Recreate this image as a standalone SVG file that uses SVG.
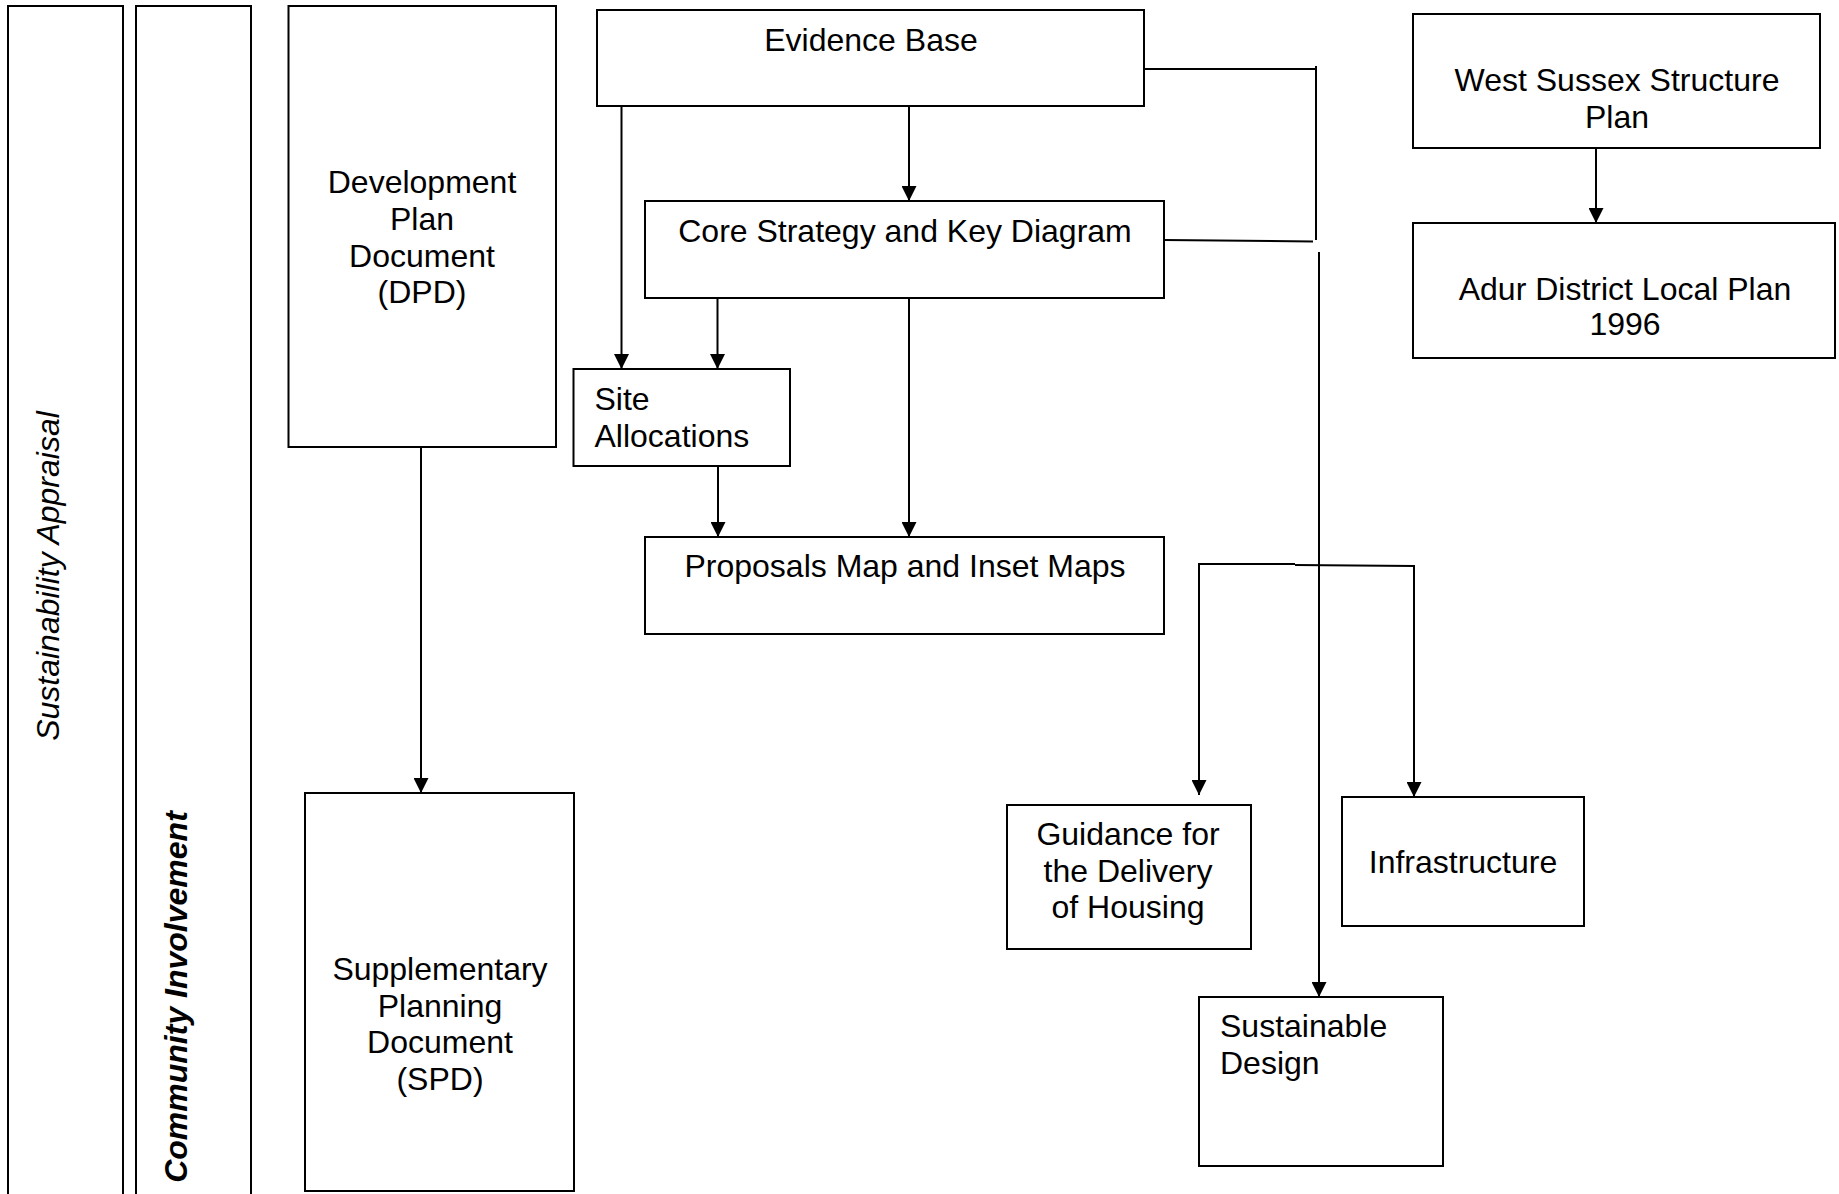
<svg xmlns="http://www.w3.org/2000/svg" width="1839" height="1194" viewBox="0 0 1839 1194">
<style>
.box{fill:#fff;stroke:#000;stroke-width:2}
.t{font-family:"Liberation Sans",Arial,sans-serif;font-size:32px;fill:#000}
.c{text-anchor:middle}
.ln{fill:none;stroke:#000;stroke-width:2}
</style>
<defs>
<marker id="ah" markerUnits="userSpaceOnUse" markerWidth="15" markerHeight="15" refX="15" refY="7.5" orient="auto">
<path d="M0,0 L15,7.5 L0,15 z" fill="#000"/>
</marker>
</defs>
<rect width="1839" height="1194" fill="#fff"/>
<g id="sustainability-appraisal">
<rect class="box" x="8" y="6" width="115" height="1200"/>
<text class="t" font-style="italic" text-anchor="middle" transform="translate(59,576) rotate(-90)">Sustainability Appraisal</text>
</g>
<g id="community-involvement">
<rect class="box" x="136" y="6" width="115" height="1200"/>
<text class="t" font-style="italic" font-weight="bold" text-anchor="middle" transform="translate(187,997) rotate(-90)">Community Involvement</text>
</g>
<g id="connectors">
<line class="ln" x1="421" y1="447" x2="421" y2="793" marker-end="url(#ah)"/>
<line class="ln" x1="909" y1="106" x2="909" y2="201" marker-end="url(#ah)"/>
<line class="ln" x1="621.5" y1="106" x2="621.5" y2="369" marker-end="url(#ah)"/>
<line class="ln" x1="717.5" y1="298" x2="717.5" y2="369" marker-end="url(#ah)"/>
<line class="ln" x1="909" y1="298" x2="909" y2="537" marker-end="url(#ah)"/>
<line class="ln" x1="718" y1="466" x2="718" y2="537" marker-end="url(#ah)"/>
<polyline class="ln" points="1145,69 1316,69"/>
<line class="ln" x1="1316" y1="66" x2="1316" y2="240"/>
<line class="ln" x1="1164" y1="240" x2="1313" y2="241.5"/>
<line class="ln" x1="1319" y1="252" x2="1319" y2="997" marker-end="url(#ah)"/>
<line class="ln" x1="1199" y1="564" x2="1295" y2="564"/>
<line class="ln" x1="1295" y1="565" x2="1414" y2="566"/>
<line class="ln" x1="1199" y1="563" x2="1199" y2="795" marker-end="url(#ah)"/>
<line class="ln" x1="1414" y1="565" x2="1414" y2="797" marker-end="url(#ah)"/>
<line class="ln" x1="1596" y1="148" x2="1596" y2="223" marker-end="url(#ah)"/>
</g>
<g id="dpd">
<rect class="box" x="288.5" y="6" width="267.5" height="441"/>
<text class="t c" x="422" y="193">Development</text>
<text class="t c" x="422" y="230">Plan</text>
<text class="t c" x="422" y="267">Document</text>
<text class="t c" x="422" y="303">(DPD)</text>
</g>
<g id="spd">
<rect class="box" x="305" y="793" width="269" height="398"/>
<text class="t c" x="440" y="980">Supplementary</text>
<text class="t c" x="440" y="1017">Planning</text>
<text class="t c" x="440" y="1053">Document</text>
<text class="t c" x="440" y="1090">(SPD)</text>
</g>
<g id="evidence-base">
<rect class="box" x="597" y="10" width="547" height="96"/>
<text class="t c" x="871" y="51">Evidence Base</text>
</g>
<g id="core-strategy">
<rect class="box" x="645" y="201" width="519" height="97"/>
<text class="t c" x="905" y="242">Core Strategy and Key Diagram</text>
</g>
<g id="site-allocations">
<rect class="box" x="573.5" y="369" width="216.5" height="97"/>
<text class="t" x="594.5" y="410">Site</text>
<text class="t" x="594.5" y="447">Allocations</text>
</g>
<g id="proposals-map">
<rect class="box" x="645" y="537" width="519" height="97"/>
<text class="t c" x="905" y="577">Proposals Map and Inset Maps</text>
</g>
<g id="west-sussex">
<rect class="box" x="1413" y="14" width="407" height="134"/>
<text class="t c" x="1617" y="91">West Sussex Structure</text>
<text class="t c" x="1617" y="128">Plan</text>
</g>
<g id="adur-local-plan">
<rect class="box" x="1413" y="223" width="422" height="135"/>
<text class="t c" x="1625" y="300">Adur District Local Plan</text>
<text class="t c" x="1625" y="335">1996</text>
</g>
<g id="guidance-housing">
<rect class="box" x="1007" y="805" width="244" height="144"/>
<text class="t c" x="1128" y="845">Guidance for</text>
<text class="t c" x="1128" y="882">the Delivery</text>
<text class="t c" x="1128" y="918">of Housing</text>
</g>
<g id="infrastructure">
<rect class="box" x="1342" y="797" width="242" height="129"/>
<text class="t c" x="1463" y="873">Infrastructure</text>
</g>
<g id="sustainable-design">
<rect class="box" x="1199" y="997" width="244" height="169"/>
<text class="t" x="1220" y="1037">Sustainable</text>
<text class="t" x="1220" y="1074">Design</text>
</g>
</svg>
